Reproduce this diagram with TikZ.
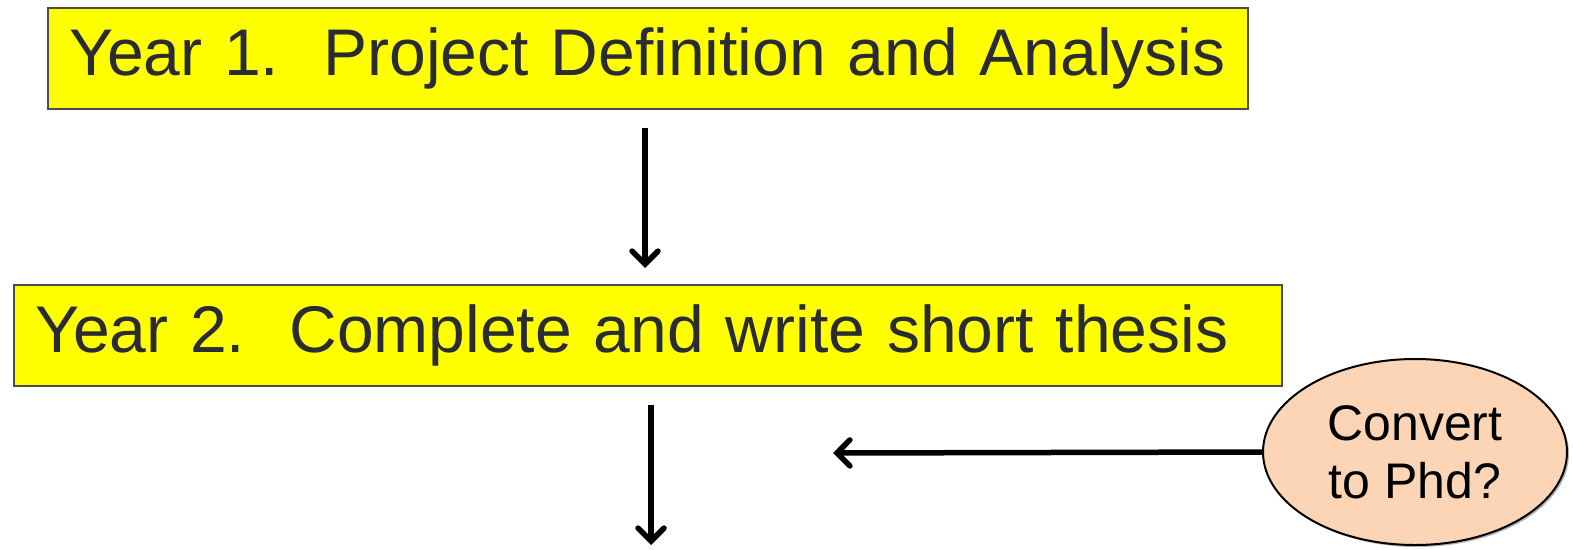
\documentclass[tikz,border=0pt]{standalone}
\usepackage{fontspec}
\setmainfont{Liberation Sans}
\usetikzlibrary{shapes.geometric,shadows,arrows.meta}
\definecolor{boxyellow}{HTML}{FFFF00}
\definecolor{boxtext}{HTML}{2B2B33}
\definecolor{peach}{HTML}{FBD5B5}
\tikzset{
    yearbox/.style={draw=black!70, line width=2pt, fill=boxyellow, text=boxtext,
        anchor=north west, inner xsep=21pt, inner ysep=0pt, align=left,
        minimum height=101pt, font=\fontsize{66}{80}\selectfont},
    flow/.style={->, line width=5.5pt, >={Straight Barb[length=13pt, width=26pt, line cap=round]}},
}
\begin{document}
\begin{tikzpicture}[x=1pt, y=-1pt]
        \useasboundingbox (0,0) rectangle (1573,549);
        \node[yearbox, text width=1158pt] (year1) at (47,7) {\mbox{Year 1.\ \ Project Definition and Analysis}};
        \node[yearbox, text width=1226pt] (year2) at (13,284) {\mbox{Year 2.\ \ Complete and write short thesis}};
        \node[draw, ellipse, line width=2pt, fill=peach, minimum width=304pt, minimum height=186pt,
            align=center, font=\fontsize{50}{58}\selectfont,
            drop shadow={shadow xshift=2pt, shadow yshift=-2pt, opacity=0.6}] (convert) at (1415,452) {Convert\\to Phd?};
        \coordinate (start1) at (645,128);
        \coordinate (tip1) at (645,268);
        \coordinate (start2) at (651,405);
        \coordinate (tip2) at (651,545);
        \coordinate (tip3) at (833,453);
        \draw[flow] (start1) -- (tip1);
        \draw[flow] (start2) -- (tip2);
        \draw[flow] (convert.west) -- (tip3);
    \end{tikzpicture}
\end{document}
